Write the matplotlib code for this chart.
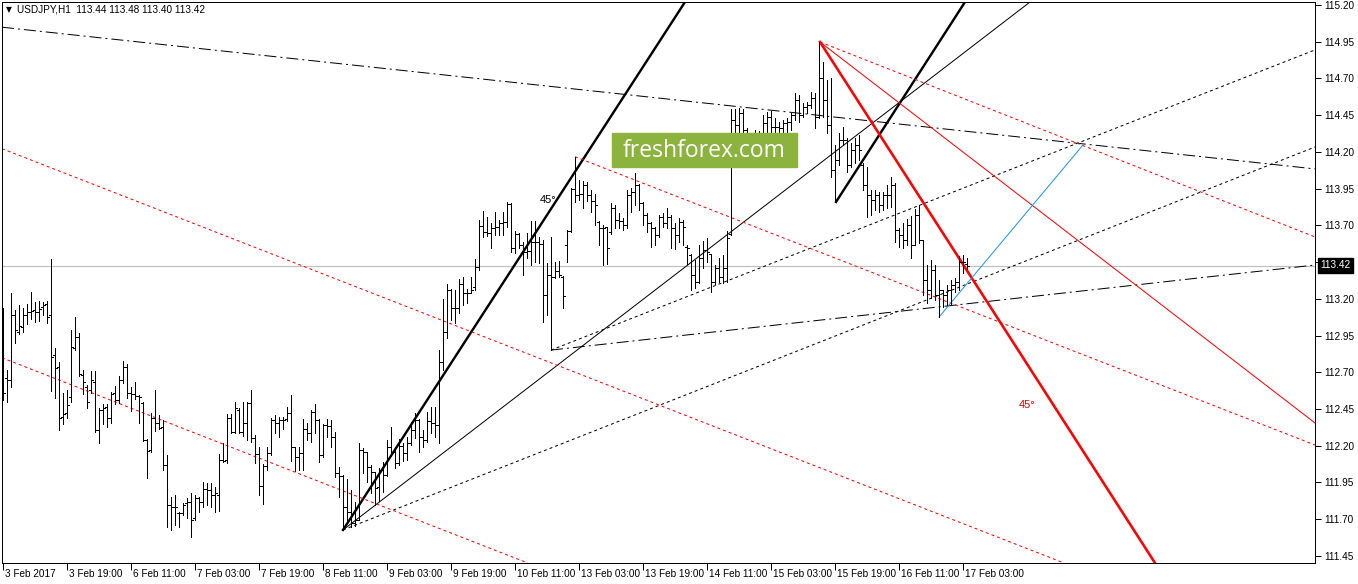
import numpy as np
import matplotlib
matplotlib.use('Agg')
import matplotlib.pyplot as plt
import matplotlib.transforms as mtransforms
from matplotlib.patches import Rectangle

plt.rcParams['font.family'] = ['Liberation Sans', 'DejaVu Sans']

# USDJPY H1 bars, 3 Feb 2017 03:00 .. 17 Feb 2017 04:00
opens = [112.851, 112.658, 112.647, 113.090, 112.976, 113.010, 113.090, 113.112, 113.124, 113.112,
         113.146, 113.162, 113.090, 112.817, 112.738, 112.398, 112.420, 112.534, 112.863, 112.942,
         112.681, 112.602, 112.579, 112.636, 112.307, 112.443, 112.466, 112.386, 112.556, 112.511,
         112.647, 112.733, 112.556, 112.552, 112.540, 112.488, 112.239, 112.171, 112.386, 112.357,
         112.329, 112.068, 111.796, 111.785, 111.744, 111.740, 111.808, 111.819, 111.706, 111.842,
         111.819, 111.903, 111.898, 111.864, 111.864, 112.103, 112.103, 112.386, 112.295, 112.443,
         112.295, 112.352, 112.489, 112.251, 112.144, 111.926, 112.062, 112.148, 112.375, 112.353,
         112.375, 112.380, 112.421, 112.189, 112.126, 112.148, 112.312, 112.289, 112.432, 112.375,
         112.137, 112.339, 112.335, 112.262, 112.012, 111.994, 111.785, 111.751, 111.672, 111.695,
         112.171, 112.160, 112.058, 112.024, 111.922, 112.035, 112.001, 112.194, 112.160, 112.080,
         112.198, 112.148, 112.217, 112.307, 112.375, 112.262, 112.239, 112.371, 112.353, 112.341,
         112.773, 112.977, 113.260, 113.136, 113.136, 113.301, 113.238, 113.242, 113.283, 113.419,
         113.696, 113.657, 113.651, 113.680, 113.691, 113.713, 113.725, 113.843, 113.543, 113.639,
         113.566, 113.521, 113.525, 113.589, 113.589, 113.570, 113.226, 113.362, 113.350, 113.389,
         113.350, 113.566, 113.661, 113.945, 113.906, 113.911, 113.974, 113.906, 113.865, 113.725,
         113.680, 113.691, 113.657, 113.816, 113.736, 113.729, 113.702, 113.906, 113.929, 113.974,
         113.850, 113.770, 113.713, 113.680, 113.634, 113.759, 113.713, 113.759, 113.680, 113.634,
         113.725, 113.555, 113.498, 113.362, 113.316, 113.475, 113.532, 113.502, 113.316, 113.407,
         113.350, 113.407, 113.639, 114.417, 114.383, 114.462, 114.349, 114.240, 114.300, 114.280,
         114.330, 114.395, 114.440, 114.372, 114.372, 114.361, 114.395, 114.406, 114.452, 114.554,
         114.452, 114.508, 114.520, 114.565, 114.440, 114.700, 114.553, 114.383, 114.077, 114.145,
         114.281, 114.281, 114.111, 114.213, 114.247, 114.111, 113.975, 113.907, 113.873, 113.907,
         113.839, 113.907, 113.907, 113.975, 113.668, 113.634, 113.600, 113.702, 113.566, 113.771,
         113.600, 113.328, 113.260, 113.396, 113.226, 113.260, 113.226, 113.260, 113.294, 113.314,
         113.450, 113.440]
highs = [113.135, 112.715, 113.242, 113.124, 113.158, 113.135, 113.164, 113.244, 113.180, 113.185,
         113.180, 113.185, 113.468, 112.863, 112.767, 112.561, 112.579, 112.987, 113.074, 112.965,
         112.715, 112.611, 112.708, 112.708, 112.454, 112.484, 112.484, 112.568, 112.609, 112.674,
         112.776, 112.756, 112.602, 112.633, 112.545, 112.500, 112.243, 112.420, 112.579, 112.409,
         112.375, 112.137, 111.848, 111.864, 111.751, 111.812, 111.842, 111.876, 111.864, 111.853,
         111.955, 111.944, 111.948, 111.917, 112.143, 112.221, 112.416, 112.416, 112.500, 112.454,
         112.500, 112.500, 112.580, 112.273, 112.194, 112.076, 112.194, 112.387, 112.407, 112.398,
         112.398, 112.462, 112.546, 112.194, 112.194, 112.380, 112.357, 112.443, 112.482, 112.380,
         112.346, 112.382, 112.375, 112.296, 112.058, 112.001, 111.972, 111.899, 111.819, 112.217,
         112.183, 112.160, 112.069, 112.024, 112.046, 112.092, 112.239, 112.330, 112.194, 112.244,
         112.221, 112.257, 112.364, 112.425, 112.380, 112.307, 112.432, 112.462, 112.466, 112.852,
         113.197, 113.299, 113.265, 113.260, 113.333, 113.347, 113.265, 113.347, 113.469, 113.737,
         113.798, 113.755, 113.713, 113.793, 113.736, 113.793, 113.856, 113.850, 113.661, 113.645,
         113.589, 113.645, 113.729, 113.729, 113.623, 113.600, 113.441, 113.623, 113.452, 113.459,
         113.355, 113.668, 113.956, 114.167, 114.008, 114.002, 113.992, 113.940, 113.911, 113.729,
         113.702, 113.691, 113.850, 113.838, 113.782, 113.752, 113.940, 113.952, 114.054, 113.979,
         113.856, 113.782, 113.725, 113.691, 113.770, 113.782, 113.816, 113.770, 113.713, 113.752,
         113.736, 113.566, 113.502, 113.464, 113.566, 113.593, 113.616, 113.502, 113.430, 113.475,
         113.498, 113.661, 114.492, 114.492, 114.496, 114.489, 114.360, 114.330, 114.350, 114.340,
         114.452, 114.474, 114.481, 114.429, 114.406, 114.418, 114.429, 114.463, 114.599, 114.588,
         114.531, 114.542, 114.610, 114.599, 114.948, 114.812, 114.689, 114.703, 114.247, 114.329,
         114.369, 114.295, 114.261, 114.295, 114.315, 114.125, 114.097, 113.941, 113.941, 113.927,
         113.927, 113.975, 114.029, 113.988, 113.682, 113.716, 113.743, 113.764, 113.811, 113.839,
         113.600, 113.430, 113.464, 113.430, 113.328, 113.260, 113.294, 113.328, 113.342, 113.491,
         113.498, 113.480]
lows = [112.511, 112.500, 112.602, 112.901, 112.960, 112.976, 113.028, 113.060, 113.044, 113.049,
        113.087, 113.033, 112.574, 112.522, 112.307, 112.348, 112.391, 112.500, 112.851, 112.674,
        112.552, 112.454, 112.556, 112.295, 112.221, 112.345, 112.329, 112.352, 112.484, 112.488,
        112.624, 112.522, 112.434, 112.518, 112.352, 112.234, 111.982, 112.155, 112.300, 112.314,
        112.034, 111.644, 111.626, 111.660, 111.649, 111.728, 111.706, 111.581, 111.694, 111.751,
        111.785, 111.796, 111.780, 111.746, 111.758, 112.087, 112.084, 112.289, 112.284, 112.284,
        112.266, 112.239, 112.228, 112.085, 111.865, 111.801, 112.035, 112.137, 112.289, 112.262,
        112.312, 112.371, 112.099, 112.031, 112.035, 112.035, 112.239, 112.228, 112.285, 112.092,
        112.126, 112.262, 112.194, 111.990, 111.853, 111.627, 111.695, 111.649, 111.654, 111.695,
        112.012, 111.956, 111.876, 111.797, 111.826, 111.888, 111.994, 112.160, 112.046, 112.069,
        112.099, 112.103, 112.205, 112.251, 112.160, 112.194, 112.228, 112.289, 112.262, 112.217,
        112.716, 112.931, 113.056, 113.033, 113.101, 113.158, 113.174, 113.238, 113.260, 113.396,
        113.623, 113.628, 113.548, 113.634, 113.634, 113.634, 113.691, 113.521, 113.509, 113.543,
        113.362, 113.475, 113.430, 113.452, 113.441, 113.044, 113.089, 112.851, 113.344, 113.350,
        113.139, 113.452, 113.657, 113.861, 113.872, 113.816, 113.865, 113.793, 113.702, 113.566,
        113.430, 113.434, 113.639, 113.680, 113.680, 113.668, 113.680, 113.793, 113.838, 113.804,
        113.702, 113.657, 113.555, 113.566, 113.623, 113.691, 113.680, 113.548, 113.539, 113.589,
        113.566, 113.434, 113.260, 113.275, 113.305, 113.407, 113.452, 113.248, 113.298, 113.316,
        113.305, 113.316, 113.634, 114.337, 114.337, 114.292, 114.200, 114.180, 114.220, 114.200,
        114.300, 114.304, 114.327, 114.293, 114.281, 114.293, 114.315, 114.350, 114.418, 114.406,
        114.440, 114.463, 114.497, 114.361, 114.431, 114.438, 114.329, 114.029, 113.859, 114.111,
        114.247, 114.063, 114.100, 114.125, 114.145, 113.941, 113.757, 113.771, 113.805, 113.791,
        113.805, 113.818, 113.825, 113.587, 113.553, 113.546, 113.566, 113.478, 113.566, 113.580,
        113.226, 113.172, 113.206, 113.192, 113.076, 113.144, 113.158, 113.158, 113.246, 113.260,
        113.376, 113.400]
closes = [112.561, 112.647, 113.090, 112.987, 113.015, 113.090, 113.112, 113.119, 113.112, 113.128,
          113.158, 113.078, 112.806, 112.727, 112.391, 112.416, 112.477, 112.874, 112.942, 112.688,
          112.636, 112.500, 112.647, 112.307, 112.443, 112.454, 112.386, 112.552, 112.511, 112.647,
          112.733, 112.556, 112.552, 112.540, 112.534, 112.239, 112.164, 112.391, 112.357, 112.323,
          112.068, 111.796, 111.785, 111.785, 111.740, 111.796, 111.814, 111.694, 111.842, 111.819,
          111.903, 111.898, 111.864, 111.876, 112.103, 112.098, 112.386, 112.295, 112.454, 112.295,
          112.352, 112.488, 112.251, 112.144, 111.926, 112.062, 112.148, 112.375, 112.353, 112.375,
          112.375, 112.421, 112.194, 112.126, 112.148, 112.312, 112.289, 112.432, 112.375, 112.137,
          112.339, 112.335, 112.262, 112.012, 111.994, 111.785, 111.751, 111.672, 111.695, 112.171,
          112.160, 112.058, 112.024, 111.910, 112.035, 112.001, 112.194, 112.160, 112.080, 112.198,
          112.148, 112.217, 112.307, 112.375, 112.262, 112.239, 112.371, 112.353, 112.341, 112.773,
          112.977, 113.260, 113.136, 113.136, 113.301, 113.238, 113.242, 113.260, 113.419, 113.696,
          113.657, 113.651, 113.680, 113.691, 113.713, 113.725, 113.843, 113.543, 113.639, 113.566,
          113.521, 113.525, 113.589, 113.589, 113.570, 113.226, 113.362, 113.350, 113.389, 113.362,
          113.219, 113.661, 113.945, 113.906, 113.911, 113.974, 113.906, 113.865, 113.838, 113.680,
          113.680, 113.543, 113.816, 113.736, 113.729, 113.702, 113.906, 113.929, 113.974, 113.850,
          113.770, 113.713, 113.680, 113.634, 113.759, 113.713, 113.759, 113.680, 113.634, 113.725,
          113.691, 113.543, 113.362, 113.316, 113.475, 113.532, 113.521, 113.316, 113.407, 113.350,
          113.407, 113.611, 114.417, 114.383, 114.462, 114.349, 114.240, 114.300, 114.280, 114.330,
          114.395, 114.440, 114.372, 114.372, 114.361, 114.395, 114.406, 114.452, 114.554, 114.452,
          114.508, 114.520, 114.565, 114.440, 114.700, 114.553, 114.383, 114.077, 114.145, 114.281,
          114.281, 114.111, 114.213, 114.247, 114.213, 113.975, 113.907, 113.873, 113.907, 113.839,
          113.907, 113.907, 113.975, 113.668, 113.634, 113.600, 113.702, 113.566, 113.771, 113.600,
          113.328, 113.260, 113.396, 113.226, 113.260, 113.226, 113.260, 113.294, 113.314, 113.450,
          113.450, 113.420]

time_labels = ['3 Feb 2017', '3 Feb 19:00', '6 Feb 11:00', '7 Feb 03:00', '7 Feb 19:00',
               '8 Feb 11:00', '9 Feb 03:00', '9 Feb 19:00', '10 Feb 11:00', '13 Feb 03:00',
               '13 Feb 19:00', '14 Feb 11:00', '15 Feb 03:00', '15 Feb 19:00', '16 Feb 11:00',
               '17 Feb 03:00']
price_ticks = [111.45, 111.70, 111.95, 112.20, 112.45, 112.70, 112.95, 113.20,
               113.45, 113.70, 113.95, 114.20, 114.45, 114.70, 114.95, 115.20]
last_price = 113.42
header = 'USDJPY,H1  113.44 113.48 113.40 113.42'

# trend line anchors (bar index, price)
low_feb8 = (85, 111.627)
low_feb10 = (137, 112.851)
low_feb15 = (208.25, 113.859)
high_feb15 = (204.25, 114.948)
high_feb13 = (143, 114.167)
low_feb16 = (234, 113.076)
gann_up_end = (170.5, 115.22)
gann_up2_end = (240.5, 115.22)
fan_thin_end = (256.75, 115.22)
fan_dot_end = (328, 114.233)
dot_a_end = (328, 114.894)
dashdot_low_end = (328, 113.430)
dashdot_top = [(-0.75, 115.050), (328, 114.084)]
red_ch1 = [(-0.75, 114.227), (265.25, 111.402)]
red_ch2 = [(-0.75, 112.804), (128, 111.436)]
red_ch3_end = (328, 112.205)
red_ch4_end = (328, 113.621)
red_thin_end = (328, 112.355)
red_gann_end = (288, 111.402)
blue_end = (270, 114.247)

W, H = 1358, 584
fig = plt.figure(figsize=(W / 100, H / 100), dpi=100)
fig.patch.set_facecolor('white')
ax = fig.add_axes([2 / W, 21 / H, 1313 / W, 561 / H])
ax.set_xlim(-0.25, 328)
ax.set_ylim(111.402, 115.220)

px = 0.72  # one screen pixel in points


def ray(p0, p1, **kw):
    x0, y0 = p0
    x1, y1 = p1
    ax.plot([x0, x0 + (x1 - x0) * 30], [y0, y0 + (y1 - y0) * 30], **kw)


dot = (0, (3, 3))
dashdot = (0, (12, 4, 2, 4))

ax.axhline(last_price, color='#c0c0c0', lw=1.2 * px, zorder=1)

ax.axline(*dashdot_top, color='black', lw=px, ls=dashdot, zorder=2)
ray(low_feb10, dashdot_low_end, color='black', lw=px, ls=dashdot, zorder=2)
ray(low_feb10, dot_a_end, color='black', lw=px, ls=dot, zorder=2)
ray(low_feb8, fan_dot_end, color='black', lw=px, ls=dot, zorder=2)
ray(low_feb8, fan_thin_end, color='black', lw=px, zorder=2)
ray(low_feb8, gann_up_end, color='black', lw=2.4 * px, zorder=2)
ray(low_feb15, gann_up2_end, color='black', lw=2.4 * px, zorder=2)

ax.axline(*red_ch1, color='red', lw=px, ls=dot, zorder=2)
ax.axline(*red_ch2, color='red', lw=px, ls=dot, zorder=2)
ray(high_feb13, red_ch3_end, color='red', lw=px, ls=dot, zorder=2)
ray(high_feb15, red_ch4_end, color='red', lw=px, ls=dot, zorder=2)
ray(high_feb15, red_thin_end, color='red', lw=px, zorder=2)
ray(high_feb15, red_gann_end, color='red', lw=2.6 * px, zorder=2)
ax.plot([low_feb16[0], blue_end[0]], [low_feb16[1], blue_end[1]], color='#1e90ff', lw=px, zorder=2)

# OHLC bars
x = np.arange(len(opens))
ax.vlines(x, lows, highs, color='black', lw=px, zorder=3, antialiased=False)
ax.hlines(opens, x - 0.45, x, color='black', lw=px, zorder=3, antialiased=False)
ax.hlines(closes, x, x + 0.45, color='black', lw=px, zorder=3, antialiased=False)

ax.text(136.3, 113.875, '45°', fontsize=8, color='black', ha='center', va='center', zorder=4)
ax.text(256.0, 112.48, '45°', fontsize=8, color='#e00000', ha='center', va='center', zorder=4)

# axes styling
for s in ax.spines.values():
    s.set_color('black')
    s.set_linewidth(px)
ax.yaxis.tick_right()
ax.set_yticks(price_ticks)
# the 113.45 label sits under the last-price marker
ax.set_yticklabels(['' if abs(v - 113.45) < 1e-6 else f'{v:.2f}' for v in price_ticks])
ax.tick_params(axis='y', length=4, width=px, pad=3, labelsize=7.2, colors='black')
ticks = np.arange(len(time_labels)) * 16
ax.set_xticks(ticks)
ax.set_xticklabels([])
ax.tick_params(axis='x', length=5, width=px, direction='out')
trans = mtransforms.blended_transform_factory(ax.transData, ax.transAxes)
for t, lab in zip(ticks, time_labels):
    ax.text(t + 0.5, -0.01, lab, transform=trans, ha='left', va='top', fontsize=7.2,
            clip_on=False)

# header
fig.text(6 / W, 1 - 10 / H, '\u25bc', fontsize=5.5, va='center', ha='left', family='DejaVu Sans')
fig.text(17 / W, 1 - 10 / H, header, fontsize=7.2, va='center', ha='left')

# last price marker
fig.text(1320 / W, 1 - 265 / H, f'{last_price:.2f}', fontsize=7.2, color='white', va='center',
         ha='left', zorder=6, bbox=dict(boxstyle='square,pad=0.25', fc='black', ec='black'))

# watermark
fig.patches.append(Rectangle((612 / W, 1 - 167 / H), 185 / W, 34 / H, transform=fig.transFigure,
                             color='#8db33f', zorder=5))
fig.text(704 / W, 1 - 151 / H, 'freshforex.com', fontsize=16.5, color='white', family='Open Sans',
         ha='center', va='center', zorder=6)

fig.savefig('out.png', dpi=100)
